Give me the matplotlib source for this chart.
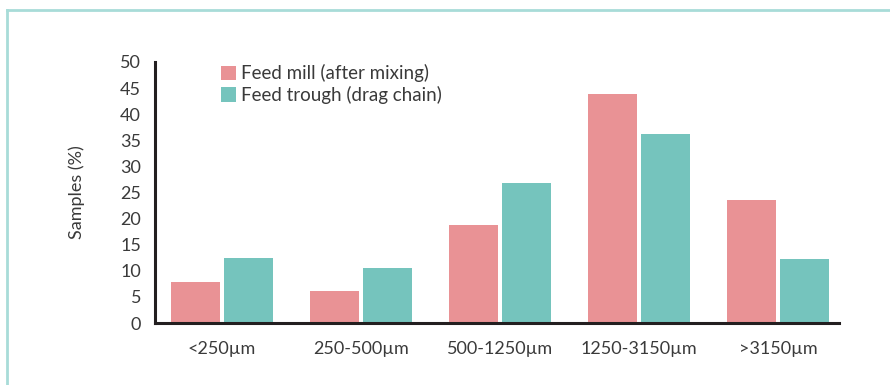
import numpy as np
import matplotlib
matplotlib.use("Agg")
import matplotlib.pyplot as plt
from matplotlib.lines import Line2D

# data
categories = ['<250\u00b5m', '250-500\u00b5m', '500-1250\u00b5m', '1250-3150\u00b5m', '>3150\u00b5m']
feed_mill = [7.9, 6.2, 18.7, 43.9, 23.5]
feed_trough = [12.4, 10.6, 26.8, 36.2, 12.2]
labels = ['Feed mill (after mixing)', 'Feed trough (drag chain)']

red = '#e99295'
teal = '#75c4bd'
txt = '#3a3a3a'

plt.rcParams['font.family'] = ['Lato', 'DejaVu Sans']

fig = plt.figure(figsize=(8.9, 3.85), dpi=100)
ax = fig.add_axes([155/890, 1-323/385, (839-155)/890, (323-62)/385])

x = np.arange(len(categories))
w = 0.353
off = 0.19
ax.bar(x - off, feed_mill, w, color=red, label=labels[0])
ax.bar(x + off, feed_trough, w, color=teal, label=labels[1])

ax.set_xlim(-0.482, 4.439)
ax.set_ylim(0, 50)
ax.set_yticks(range(0, 51, 5))
ax.set_xticks(x)
ax.set_xticklabels(categories)
ax.tick_params(length=0, labelsize=13, labelcolor=txt)
ax.tick_params(axis='y', pad=10)
ax.tick_params(axis='x', pad=13)

for s in ['top', 'right']:
    ax.spines[s].set_visible(False)
for s in ['left', 'bottom']:
    ax.spines[s].set_linewidth(2.2)
    ax.spines[s].set_color('#231f20')

ax.set_ylabel('Samples (%)', fontsize=13, color=txt)
ax.yaxis.set_label_coords(-0.102, 0.5)

leg = ax.legend(loc='upper left', bbox_to_anchor=(0.085, 1.02), frameon=False,
                fontsize=13.5, handlelength=0.8, handleheight=0.8, handletextpad=0.3,
                labelspacing=0.2, borderaxespad=0)
for t in leg.get_texts():
    t.set_color(txt)

# light teal frame on the left and top
border = '#a8dcd8'
fig.add_artist(Line2D([7/890, 7/890], [0, 1-10/385], color=border, lw=2, transform=fig.transFigure))
fig.add_artist(Line2D([7/890, 1], [1-10/385, 1-10/385], color=border, lw=2, transform=fig.transFigure))

fig.savefig('out.png', dpi=100)
